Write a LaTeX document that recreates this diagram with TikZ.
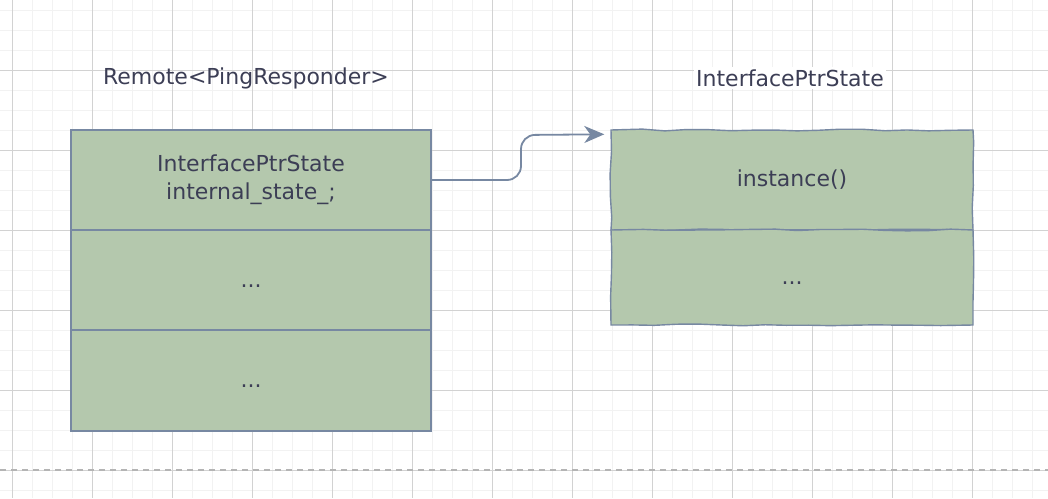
\documentclass[tikz,border=0pt]{standalone}
\usepackage{fontspec}
\setmainfont{DejaVu Sans}
\usetikzlibrary{positioning,arrows.meta,decorations.pathmorphing}
\definecolor{sage}{HTML}{B4C8AD}
\definecolor{edge}{HTML}{7788A2}
\definecolor{ink}{HTML}{3C3E55}
\definecolor{minorgrid}{HTML}{F2F2F2}
\definecolor{majorgrid}{HTML}{D2D2D2}
\definecolor{fold}{HTML}{B4B4B4}
\tikzset{
  cell/.style   = {draw=edge, fill=sage, line width=1.4pt, text=ink,
                   minimum width=360pt, minimum height=100pt, align=center,
                   inner sep=0pt},
  sketch/.style = {cell, minimum width=362pt, decorate,
                   decoration={random steps, segment length=22pt, amplitude=0.9pt}},
  dots/.style   = {text height=16pt, text depth=2pt},
  title/.style  = {text=ink, inner sep=2pt},
  link/.style   = {->, draw=edge, line width=1.8pt, rounded corners=14pt,
                   >={Stealth[length=20pt,width=17pt,inset=6pt]}},
}
\begin{document}
\begin{tikzpicture}[x=1pt,y=-1pt,font=\fontsize{22}{28}\selectfont]
    \useasboundingbox (0,0) rectangle (1048,498);
    \fill[white] (0,0) rectangle (1048,498);
    % grid
    \foreach \x in {12,32,...,1048}{
      \draw[minorgrid,line width=0.8pt] (\x,0) -- (\x,498);}
    \foreach \y in {10,30,...,498}{
      \draw[minorgrid,line width=0.8pt] (0,\y) -- (1048,\y);}
    \foreach \x in {12,92,...,1048}{
      \draw[majorgrid,line width=0.8pt] (\x,0) -- (\x,498);}
    \foreach \y in {70,150,...,498}{
      \draw[majorgrid,line width=0.8pt] (0,\y) -- (1048,\y);}
    \draw[fold,line width=1.2pt,dash pattern=on 6pt off 5pt] (0,470) -- (1048,470);
    % left object
    \node[cell] (state) at (251,180) {InterfacePtrState\\internal\_state\_;};
    \node[cell,dots,minimum height=101pt] (restA) at (251,380.5) {...};
    \node[cell,dots] (restB) at (251,280) {...};
    \node[title] (remote) at (246,78) {Remote<PingResponder>};
    % right object
    \pgfmathsetseed{7}
    \node[sketch] (inst) at (792,180) {instance()};
    \node[sketch,dots,minimum height=95pt] (more) at (792,277.5) {...};
    \node[title,fill=white] (iface) at (790,78) {InterfacePtrState};
    % connector
    \coordinate (tip) at ([xshift=-6pt,yshift=-5pt]inst.north west);
    \draw[link] (state.east) -- (521,180) -- (521,135) -- (tip);
\end{tikzpicture}
\end{document}
